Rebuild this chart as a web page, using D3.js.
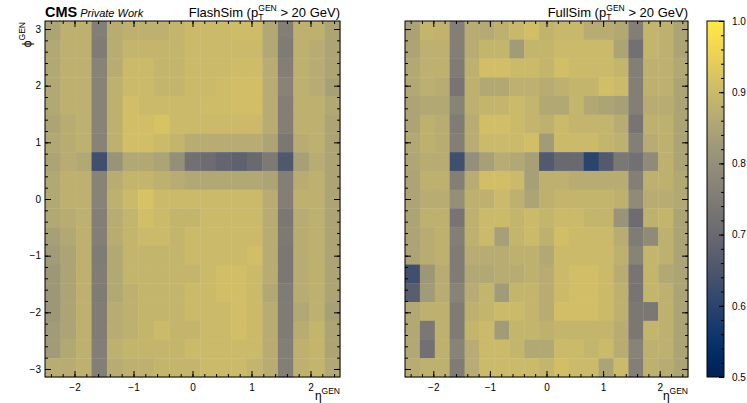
<!DOCTYPE html>
<meta charset="utf-8">
<head>
<style>
  body { margin: 0; background: #fff; }
  text { font-family: "Liberation Sans", Arial, Helvetica, sans-serif; fill: #000; }
  .axis path.domain { display: none; }
  .axis line { stroke: #000; stroke-width: 1; }
  .axis text { font-size: 10px; }
</style>
</head>
<body>
<script src="https://d3js.org/d3.v7.min.js" charset="utf-8"></script>
<script>
// binning of the two maps: 19 x 19 bins in eta and phi
const etaRange = [-2.5, 2.5];
const phiRange = [-Math.PI, Math.PI];
const nEta = 19;
const nPhi = 19;

const xTicks = [-2, -1, 0, 1, 2];
const yTicks = [-3, -2, -1, 0, 1, 2, 3];
const cbarTicks = [0.5, 0.6, 0.7, 0.8, 0.9, 1.0];

const panelTitles = ['FlashSim', 'FullSim'];

// efficiency per bin, rows from top (phi = +pi) to bottom (phi = -pi), columns eta -2.5 -> 2.5
const flashSim = [
  [0.85, 0.88, 0.88, 0.76, 0.87, 0.88, 0.88, 0.88, 0.89, 0.90, 0.90, 0.90, 0.905, 0.905, 0.86, 0.76, 0.88, 0.88, 0.85],
  [0.86, 0.88, 0.88, 0.75, 0.87, 0.89, 0.89, 0.89, 0.89, 0.90, 0.90, 0.90, 0.90, 0.90, 0.86, 0.75, 0.88, 0.87, 0.85],
  [0.86, 0.88, 0.88, 0.77, 0.87, 0.90, 0.90, 0.89, 0.89, 0.90, 0.90, 0.90, 0.905, 0.905, 0.87, 0.76, 0.88, 0.87, 0.85],
  [0.86, 0.88, 0.88, 0.77, 0.88, 0.90, 0.90, 0.89, 0.89, 0.90, 0.90, 0.905, 0.91, 0.91, 0.87, 0.77, 0.88, 0.87, 0.84],
  [0.86, 0.88, 0.88, 0.77, 0.88, 0.91, 0.90, 0.90, 0.90, 0.90, 0.905, 0.905, 0.91, 0.91, 0.87, 0.76, 0.88, 0.88, 0.86],
  [0.85, 0.87, 0.88, 0.77, 0.88, 0.91, 0.91, 0.92, 0.90, 0.90, 0.90, 0.90, 0.90, 0.90, 0.87, 0.76, 0.88, 0.88, 0.85],
  [0.86, 0.87, 0.88, 0.77, 0.88, 0.91, 0.91, 0.90, 0.89, 0.87, 0.87, 0.87, 0.87, 0.87, 0.85, 0.74, 0.87, 0.88, 0.85],
  [0.85, 0.87, 0.86, 0.63, 0.81, 0.86, 0.86, 0.85, 0.80, 0.72, 0.71, 0.69, 0.68, 0.70, 0.745, 0.655, 0.84, 0.87, 0.85],
  [0.86, 0.88, 0.88, 0.77, 0.87, 0.89, 0.89, 0.88, 0.87, 0.86, 0.86, 0.86, 0.86, 0.86, 0.85, 0.76, 0.87, 0.88, 0.85],
  [0.86, 0.88, 0.88, 0.77, 0.88, 0.90, 0.92, 0.90, 0.90, 0.90, 0.90, 0.90, 0.90, 0.90, 0.87, 0.76, 0.88, 0.88, 0.85],
  [0.86, 0.87, 0.88, 0.76, 0.87, 0.89, 0.91, 0.90, 0.89, 0.89, 0.90, 0.90, 0.90, 0.90, 0.87, 0.74, 0.87, 0.88, 0.85],
  [0.84, 0.86, 0.88, 0.76, 0.87, 0.89, 0.90, 0.90, 0.89, 0.90, 0.90, 0.90, 0.90, 0.90, 0.87, 0.745, 0.87, 0.88, 0.85],
  [0.83, 0.85, 0.88, 0.75, 0.86, 0.89, 0.89, 0.89, 0.89, 0.90, 0.90, 0.90, 0.90, 0.91, 0.87, 0.74, 0.87, 0.88, 0.85],
  [0.82, 0.85, 0.88, 0.755, 0.86, 0.89, 0.89, 0.89, 0.89, 0.89, 0.90, 0.91, 0.91, 0.90, 0.87, 0.74, 0.87, 0.88, 0.85],
  [0.82, 0.85, 0.88, 0.75, 0.86, 0.88, 0.89, 0.89, 0.89, 0.90, 0.90, 0.91, 0.91, 0.90, 0.86, 0.75, 0.87, 0.88, 0.85],
  [0.82, 0.85, 0.88, 0.755, 0.87, 0.88, 0.89, 0.89, 0.89, 0.90, 0.90, 0.90, 0.91, 0.90, 0.87, 0.75, 0.86, 0.88, 0.84],
  [0.83, 0.85, 0.88, 0.755, 0.87, 0.88, 0.89, 0.90, 0.89, 0.89, 0.90, 0.90, 0.91, 0.90, 0.87, 0.75, 0.87, 0.89, 0.85],
  [0.83, 0.86, 0.88, 0.76, 0.88, 0.89, 0.89, 0.89, 0.89, 0.90, 0.90, 0.90, 0.90, 0.90, 0.87, 0.76, 0.88, 0.89, 0.85],
  [0.87, 0.87, 0.88, 0.76, 0.87, 0.88, 0.88, 0.89, 0.89, 0.89, 0.90, 0.90, 0.90, 0.89, 0.87, 0.76, 0.88, 0.89, 0.86],
];

const fullSim = [
  [0.845, 0.89, 0.885, 0.76, 0.87, 0.865, 0.88, 0.895, 0.91, 0.885, 0.895, 0.895, 0.87, 0.87, 0.86, 0.76, 0.89, 0.88, 0.85],
  [0.85, 0.88, 0.88, 0.76, 0.87, 0.89, 0.89, 0.83, 0.89, 0.89, 0.90, 0.90, 0.90, 0.90, 0.85, 0.72, 0.89, 0.88, 0.85],
  [0.86, 0.88, 0.88, 0.75, 0.88, 0.91, 0.91, 0.90, 0.90, 0.89, 0.91, 0.90, 0.90, 0.90, 0.89, 0.76, 0.88, 0.88, 0.86],
  [0.86, 0.875, 0.87, 0.73, 0.88, 0.86, 0.86, 0.88, 0.88, 0.87, 0.88, 0.89, 0.89, 0.91, 0.90, 0.76, 0.88, 0.88, 0.85],
  [0.85, 0.86, 0.86, 0.77, 0.88, 0.89, 0.89, 0.90, 0.89, 0.86, 0.86, 0.89, 0.86, 0.85, 0.84, 0.76, 0.87, 0.87, 0.85],
  [0.85, 0.88, 0.87, 0.75, 0.87, 0.91, 0.91, 0.90, 0.89, 0.88, 0.90, 0.89, 0.89, 0.89, 0.87, 0.73, 0.88, 0.88, 0.85],
  [0.86, 0.88, 0.87, 0.76, 0.87, 0.90, 0.90, 0.90, 0.91, 0.83, 0.90, 0.90, 0.90, 0.89, 0.88, 0.76, 0.87, 0.88, 0.85],
  [0.855, 0.87, 0.87, 0.63, 0.80, 0.84, 0.87, 0.86, 0.84, 0.66, 0.70, 0.70, 0.60, 0.66, 0.74, 0.72, 0.79, 0.88, 0.85],
  [0.85, 0.88, 0.88, 0.76, 0.87, 0.91, 0.91, 0.90, 0.84, 0.88, 0.88, 0.87, 0.87, 0.87, 0.87, 0.76, 0.88, 0.88, 0.86],
  [0.85, 0.87, 0.87, 0.80, 0.88, 0.88, 0.90, 0.88, 0.85, 0.88, 0.89, 0.89, 0.89, 0.89, 0.88, 0.79, 0.87, 0.87, 0.86],
  [0.85, 0.88, 0.88, 0.73, 0.88, 0.90, 0.90, 0.89, 0.90, 0.89, 0.90, 0.90, 0.89, 0.89, 0.81, 0.71, 0.88, 0.89, 0.85],
  [0.85, 0.87, 0.88, 0.76, 0.88, 0.90, 0.84, 0.89, 0.90, 0.88, 0.91, 0.90, 0.90, 0.90, 0.87, 0.75, 0.79, 0.88, 0.85],
  [0.85, 0.87, 0.88, 0.75, 0.87, 0.87, 0.87, 0.88, 0.88, 0.86, 0.90, 0.90, 0.90, 0.90, 0.88, 0.77, 0.89, 0.88, 0.85],
  [0.63, 0.82, 0.87, 0.75, 0.86, 0.86, 0.87, 0.87, 0.88, 0.87, 0.90, 0.91, 0.91, 0.90, 0.87, 0.73, 0.89, 0.86, 0.85],
  [0.67, 0.83, 0.87, 0.77, 0.87, 0.89, 0.83, 0.89, 0.89, 0.87, 0.90, 0.91, 0.91, 0.90, 0.88, 0.73, 0.89, 0.88, 0.85],
  [0.86, 0.88, 0.88, 0.75, 0.88, 0.89, 0.90, 0.90, 0.89, 0.87, 0.91, 0.91, 0.91, 0.90, 0.88, 0.74, 0.74, 0.88, 0.85],
  [0.86, 0.74, 0.88, 0.75, 0.89, 0.90, 0.83, 0.89, 0.89, 0.88, 0.89, 0.89, 0.89, 0.89, 0.87, 0.74, 0.89, 0.88, 0.85],
  [0.86, 0.72, 0.88, 0.77, 0.87, 0.90, 0.90, 0.89, 0.86, 0.86, 0.90, 0.90, 0.89, 0.90, 0.87, 0.77, 0.88, 0.88, 0.85],
  [0.87, 0.88, 0.88, 0.75, 0.87, 0.90, 0.90, 0.90, 0.90, 0.89, 0.91, 0.90, 0.90, 0.85, 0.90, 0.76, 0.88, 0.87, 0.85],
];

const W = 747;
const H = 403;

const panels = [
  { left: 45, right: 340, data: flashSim, title: panelTitles[0], yLabels: true },
  { left: 405, right: 688, data: fullSim, title: panelTitles[1], yLabels: false },
];
const plotTop = 21;
const plotBottom = 377;
const cbar = { left: 707, right: 724 };

const color = d3.scaleSequential(d3.interpolateCividis).domain([0.5, 1.0]);

const svg = d3.select('body')
  .append('svg')
  .attr('width', W)
  .attr('height', H);

const minorEta = d3.range(-24, 25, 2).map(d => d / 10);
const minorPhi = d3.range(-30, 31, 2).map(d => d / 10);

panels.forEach(p => {
  const x = d3.scaleLinear().domain(etaRange).range([p.left, p.right]);
  const y = d3.scaleLinear().domain(phiRange).range([plotBottom, plotTop]);
  const etaEdges = d3.range(nEta + 1).map(i => etaRange[0] + i * (etaRange[1] - etaRange[0]) / nEta);
  const phiEdges = d3.range(nPhi + 1).map(i => phiRange[1] - i * (phiRange[1] - phiRange[0]) / nPhi);

  const cells = [];
  p.data.forEach((row, r) => row.forEach((v, c) => cells.push({ r, c, v })));

  svg.append('g')
    .selectAll('rect')
    .data(cells)
    .enter()
    .append('rect')
    .attr('x', d => x(etaEdges[d.c]))
    .attr('y', d => y(phiEdges[d.r]))
    .attr('width', d => x(etaEdges[d.c + 1]) - x(etaEdges[d.c]) + 0.4)
    .attr('height', d => y(phiEdges[d.r + 1]) - y(phiEdges[d.r]) + 0.4)
    .attr('fill', d => color(d.v));

  // axes, ticks inward on all four sides
  const bx = svg.append('g').attr('class', 'axis').attr('transform', `translate(0, ${plotBottom})`);
  bx.call(d3.axisBottom(x).tickValues(xTicks).tickSizeInner(-6).tickSizeOuter(0).tickPadding(5).tickFormat(d3.format('d')));
  bx.call(g => g.selectAll('text').attr('dy', '0.9em'));
  svg.append('g').attr('class', 'axis').attr('transform', `translate(0, ${plotBottom})`)
    .call(d3.axisBottom(x).tickValues(minorEta).tickSizeInner(-3).tickSizeOuter(0).tickFormat(''));
  svg.append('g').attr('class', 'axis').attr('transform', `translate(0, ${plotTop})`)
    .call(d3.axisTop(x).tickValues(xTicks).tickSizeInner(-6).tickSizeOuter(0).tickFormat(''));
  svg.append('g').attr('class', 'axis').attr('transform', `translate(0, ${plotTop})`)
    .call(d3.axisTop(x).tickValues(minorEta).tickSizeInner(-3).tickSizeOuter(0).tickFormat(''));

  svg.append('g').attr('class', 'axis').attr('transform', `translate(${p.left}, 0)`)
    .call(d3.axisLeft(y).tickValues(yTicks).tickSizeInner(-6).tickSizeOuter(0).tickPadding(4)
      .tickFormat(p.yLabels ? d3.format('d') : ''));
  svg.append('g').attr('class', 'axis').attr('transform', `translate(${p.left}, 0)`)
    .call(d3.axisLeft(y).tickValues(minorPhi).tickSizeInner(-3).tickSizeOuter(0).tickFormat(''));
  svg.append('g').attr('class', 'axis').attr('transform', `translate(${p.right}, 0)`)
    .call(d3.axisRight(y).tickValues(yTicks).tickSizeInner(-6).tickSizeOuter(0).tickFormat(''));
  svg.append('g').attr('class', 'axis').attr('transform', `translate(${p.right}, 0)`)
    .call(d3.axisRight(y).tickValues(minorPhi).tickSizeInner(-3).tickSizeOuter(0).tickFormat(''));

  svg.append('rect')
    .attr('x', p.left).attr('y', plotTop)
    .attr('width', p.right - p.left).attr('height', plotBottom - plotTop)
    .attr('fill', 'none').attr('stroke', '#000').attr('stroke-width', 1);

  // title: name (p_T^GEN > 20 GeV)
  const t = svg.append('text')
    .attr('x', p.right).attr('y', 17)
    .attr('text-anchor', 'end')
    .style('font-size', '13px');
  t.append('tspan').text(`${p.title} (p`);
  t.append('tspan').attr('dy', 3).style('font-size', '8.5px').text('T');
  t.append('tspan').attr('dx', -5).attr('dy', -9).style('font-size', '8.5px').text('GEN');
  t.append('tspan').attr('dy', 6).text(' > 20 GeV)');

  // x label
  const xl = svg.append('text')
    .attr('x', p.right).attr('y', 400)
    .attr('text-anchor', 'end')
    .style('font-size', '12px');
  xl.append('tspan').text('η');
  xl.append('tspan').attr('dy', -6).style('font-size', '8.5px').text('GEN');
});

// CMS label and y label on the left panel
const cms = svg.append('text').attr('x', 45).attr('y', 17);
cms.append('tspan').style('font-size', '14.5px').style('font-weight', 'bold').text('CMS');
cms.append('tspan').attr('dx', 3).style('font-size', '11px').style('font-style', 'italic').text('Private Work');

const yl = svg.append('text')
  .attr('transform', 'translate(31, 22) rotate(-90)')
  .attr('text-anchor', 'end')
  .style('font-size', '12px');
yl.append('tspan').text('ϕ');
yl.append('tspan').attr('dy', -6).style('font-size', '8.5px').text('GEN');

// colour bar
const cy = d3.scaleLinear().domain([0.5, 1.0]).range([plotBottom, plotTop]);
const grad = svg.append('defs').append('linearGradient')
  .attr('id', 'cbar').attr('x1', 0).attr('y1', 1).attr('x2', 0).attr('y2', 0);
grad.selectAll('stop')
  .data(d3.range(0, 1.001, 0.05))
  .enter()
  .append('stop')
  .attr('offset', d => d)
  .attr('stop-color', d => color(0.5 + d * 0.5));
svg.append('rect')
  .attr('x', cbar.left).attr('y', plotTop)
  .attr('width', cbar.right - cbar.left).attr('height', plotBottom - plotTop)
  .attr('fill', 'url(#cbar)').attr('stroke', '#000').attr('stroke-width', 1);
svg.append('g').attr('class', 'axis').attr('transform', `translate(${cbar.right}, 0)`)
  .call(d3.axisRight(cy).tickValues(cbarTicks).tickSizeInner(-5).tickSizeOuter(0).tickPadding(8).tickFormat(d3.format('.1f')));
svg.append('g').attr('class', 'axis').attr('transform', `translate(${cbar.right}, 0)`)
  .call(d3.axisRight(cy).tickValues(d3.range(50, 101, 2).map(d => d / 100)).tickSizeInner(-3).tickSizeOuter(0).tickFormat(''));
</script>
</body>
